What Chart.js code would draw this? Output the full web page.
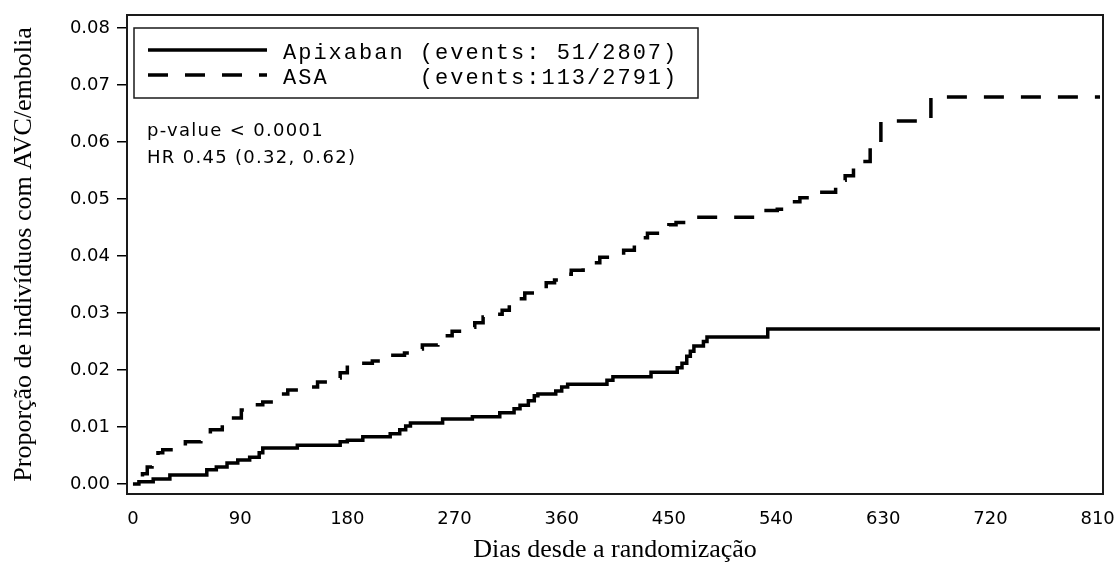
<!DOCTYPE html>
<html><head><meta charset="utf-8">
<script src="https://cdn.jsdelivr.net/npm/chart.js@4/dist/chart.umd.min.js"></script>
<style>html,body{margin:0;padding:0;background:#fff;} canvas{display:block;}</style>
</head><body>
<canvas id="c" width="1116" height="563"></canvas>
<script>
// ---- data ----
const seriesNames = ['Apixaban', 'ASA'];
const seriesEvents = ['(events: 51/2807)', '(events:113/2791)'];
const apixabanDays = [0,5,17,31,62,70,79,88,98,106,109,138,174,180,193,216,224,229,233,260,285,308,320,325,332,337,340,355,360,365,398,403,435,457,461,465,468,471,479,482,533,812];
const apixabanRisk = [0,0.0004,0.0009,0.0016,0.0025,0.003,0.0037,0.0042,0.0047,0.0055,0.0063,0.0068,0.0074,0.0077,0.0083,0.0088,0.0095,0.0102,0.0107,0.0114,0.0118,0.0125,0.0132,0.0138,0.0146,0.0155,0.0158,0.0163,0.0170,0.0175,0.0182,0.0188,0.0196,0.0204,0.0212,0.0224,0.0233,0.0242,0.0250,0.0258,0.0272,0.0272];
const asaDays = [0,3,8,12,16,21,25,35,44,57,65,75,81,91,101,109,120,125,130,141,155,166,174,180,192,201,209,228,237,243,256,264,268,280,287,294,304,310,316,322,329,337,347,354,360,368,378,384,392,412,421,428,432,442,450,456,466,473,523,541,552,560,570,590,598,605,612,619,628,670,812];
const asaRisk = [0,0.0007,0.0018,0.003,0.0045,0.0055,0.006,0.0063,0.0074,0.0082,0.0095,0.0107,0.0116,0.013,0.0139,0.0144,0.0148,0.0158,0.0165,0.017,0.0179,0.0186,0.0195,0.0205,0.0212,0.0216,0.0226,0.023,0.0237,0.0244,0.0249,0.026,0.0268,0.0275,0.0283,0.0293,0.0298,0.0305,0.0315,0.0325,0.0335,0.0343,0.0353,0.0358,0.0368,0.0375,0.038,0.0388,0.0398,0.041,0.042,0.0432,0.044,0.0443,0.0455,0.0459,0.0463,0.0468,0.048,0.0482,0.0495,0.0502,0.0512,0.0533,0.0541,0.0556,0.0566,0.059,0.0637,0.0679,0.0679];
const xTicks = [0,90,180,270,360,450,540,630,720,810];
const yTicks = [0,0.01,0.02,0.03,0.04,0.05,0.06,0.07,0.08];
const annotations = ['p-value < 0.0001', 'HR 0.45 (0.32, 0.62)'];
const xTitle = 'Dias desde a randomização';
const yTitle = 'Proporção de indivíduos com AVC/embolia';

const toPts = (xs, ys) => xs.map((x, i) => ({x: x, y: ys[i]}));
const DASH = [20, 17];
const tickFont = {family: 'DejaVu Sans', size: 18};
const titleFont = {family: 'Liberation Serif', size: 26, lineHeight: 1.0};

const framePlugin = {
  id: 'frame',
  afterDatasetsDraw(chart) {
    const {ctx, chartArea: a} = chart;
    ctx.save();
    ctx.strokeStyle = '#1a1a1a';
    ctx.lineWidth = 2;
    ctx.strokeRect(a.left, a.top, a.right - a.left, a.bottom - a.top);
    ctx.restore();
  }
};

const legendPlugin = {
  id: 'kmLegend',
  afterDraw(chart) {
    const ctx = chart.ctx;
    const ds = chart.data.datasets;
    ctx.save();
    ctx.strokeStyle = '#1a1a1a';
    ctx.lineWidth = 1.5;
    ctx.strokeRect(134, 28, 564, 70);
    const rows = [50, 75];
    ds.forEach((d, i) => {
      ctx.beginPath();
      ctx.strokeStyle = '#000';
      ctx.lineWidth = 3.5;
      ctx.setLineDash(d.borderDash || []);
      ctx.moveTo(148, rows[i]);
      ctx.lineTo(267, rows[i]);
      ctx.stroke();
    });
    ctx.setLineDash([]);
    ctx.fillStyle = '#000';
    ctx.font = '22px "Liberation Mono", monospace';
    ctx.textBaseline = 'alphabetic';
    ctx.textAlign = 'left';
    try { ctx.letterSpacing = '2px'; } catch (e) {}
    ds.forEach((d, i) => {
      const txt = d.label.padEnd(9, ' ') + seriesEvents[i];
      ctx.fillText(txt, 283, rows[i] + 9);
    });
    ctx.font = '18px "DejaVu Sans", sans-serif';
    try { ctx.letterSpacing = '1.3px'; } catch (e) {}
    ctx.fillText(annotations[0], 147, 136);
    ctx.fillText(annotations[1], 147, 163);
    try { ctx.letterSpacing = '0px'; } catch (e) {}
    ctx.restore();
  }
};

new Chart(document.getElementById('c'), {
  type: 'line',
  data: {
    datasets: [
      {label: seriesNames[0], data: toPts(apixabanDays, apixabanRisk), stepped: true,
       borderColor: '#000', borderWidth: 3.5, pointRadius: 0, fill: false},
      {label: seriesNames[1], data: toPts(asaDays, asaRisk), stepped: true,
       borderColor: '#000', borderWidth: 3.5, borderDash: DASH, borderDashOffset: 20,
       pointRadius: 0, fill: false}
    ]
  },
  options: {
    responsive: false,
    animation: false,
    devicePixelRatio: 1,
    layout: {padding: {top: 15, right: 13, left: 0, bottom: 0}},
    plugins: {legend: {display: false}, tooltip: {enabled: false}, title: {display: false}},
    scales: {
      x: {
        type: 'linear', min: -5, max: 814.5,
        afterBuildTicks: s => { s.ticks = xTicks.map(v => ({value: v})); },
        afterFit: s => { s.height = 69; s.paddingLeft = 0; s.paddingRight = 0; },
        ticks: {font: tickFont, color: '#000', padding: 15, maxRotation: 0, autoSkip: false,
                callback: v => String(v)},
        grid: {display: false, drawTicks: false},
        border: {display: false},
        title: {display: true, text: xTitle, color: '#000', font: titleFont,
                padding: {top: 0, bottom: 0}}
      },
      y: {
        type: 'linear', min: -0.00175, max: 0.08228,
        afterBuildTicks: s => { s.ticks = yTicks.map(v => ({value: v})); },
        afterFit: s => { s.width = 127; s.paddingTop = 0; s.paddingBottom = 0; },
        ticks: {font: tickFont, color: '#000', padding: 7, autoSkip: false,
                callback: v => Number(v).toFixed(2)},
        grid: {display: true, drawOnChartArea: false, drawTicks: true, tickLength: 10,
               color: '#000', lineWidth: 1.5},
        border: {display: false},
        title: {display: true, text: yTitle, color: '#000', font: titleFont,
                padding: {top: 11, bottom: 0}}
      }
    }
  },
  plugins: [framePlugin, legendPlugin]
});
</script>
</body></html>
